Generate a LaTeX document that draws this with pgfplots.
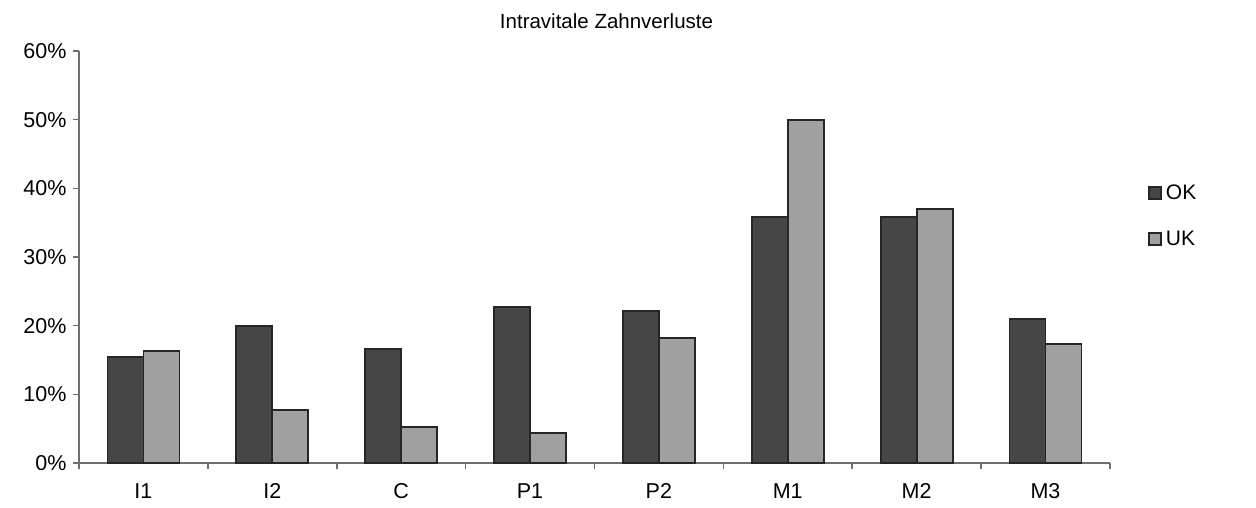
\documentclass[border=0pt]{standalone}
\usepackage{fontspec}
\setmainfont{Liberation Sans}
\usepackage{pgfplots}
\pgfplotsset{compat=1.18}
\definecolor{okc}{HTML}{464646}
\definecolor{ukc}{HTML}{A0A0A0}
\definecolor{axc}{HTML}{6E6E6E}
\begin{document}
\begin{tikzpicture}
\useasboundingbox (-79pt,-44pt) rectangle (1177pt,463pt);
\begin{axis}[
  at={(0,0)}, anchor=south west,
  scale only axis,
  width=1031pt, height=412pt,
  ybar=0pt, bar width=36pt,
  xmin=-0.5, xmax=7.5,
  ymin=0, ymax=60,
  axis x line=bottom, axis y line=left,
  every outer x axis line/.append style={-, draw=axc, line width=2.2pt},
  every outer y axis line/.append style={-, draw=axc, line width=2.2pt},
  tick align=outside,
  xtick={0,...,7},
  xticklabels={I1,I2,C,P1,P2,M1,M2,M3},
  major x tick style={draw=none},
  minor xtick={-0.5,0.5,...,7.5},
  minor tick length=6pt,
  minor x tick style={draw=axc, line width=1.6pt},
  ytick={0,10,...,60},
  major tick length=6pt,
  y tick style={draw=axc, line width=1.6pt},
  yticklabel={\pgfmathprintnumber{\tick}\%},
  /pgf/number format/assume math mode=true,
  tick label style={font=\fontsize{21.5}{24}\selectfont, text=black},
  xticklabel style={yshift=-11pt},
  yticklabel style={xshift=-3pt},
  legend style={draw=none, at={(1.037,0.6)}, anchor=west, font=\fontsize{21}{24}\selectfont, row sep=26pt, inner sep=0pt},
  legend cell align=left,
  legend image code/.code={\draw[#1, line width=1.6pt] (0pt,-6pt) rectangle (12pt,6pt); \path (14pt,0pt);},
  clip=false,
]
\addplot[fill=okc, draw=black!85, line width=1.8pt] coordinates {(0,15.4) (1,20.0) (2,16.6) (3,22.7) (4,22.1) (5,35.8) (6,35.8) (7,21.0)};
\addplot[fill=ukc, draw=black!85, line width=1.8pt] coordinates {(0,16.3) (1,7.7) (2,5.2) (3,4.4) (4,18.2) (5,50.0) (6,37.0) (7,17.3)};
\legend{OK,UK}
\end{axis}
\node[font=\fontsize{20.5}{23}\selectfont] at (527.5pt,442pt) {Intravitale Zahnverluste};
\end{tikzpicture}
\end{document}
